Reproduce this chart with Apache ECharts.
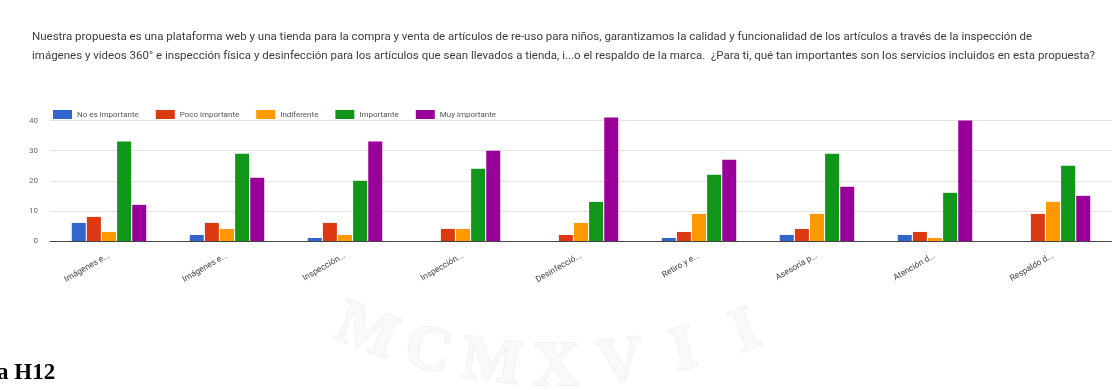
<!DOCTYPE html>
<html>
<head>
<meta charset="utf-8">
<script src="https://cdn.jsdelivr.net/npm/echarts@6/dist/echarts.min.js"></script>
<style>
  html, body { margin: 0; padding: 0; background: #fff; }
  #chart { width: 1112px; height: 390px; }
</style>
</head>
<body>
<div id="chart"></div>
<script>
// Survey question and answer breakdown per service
const titleLines = [
  'Nuestra propuesta es una plataforma web y una tienda para la compra y venta de artículos de re-uso para niños, garantizamos la calidad y funcionalidad de los artículos a través de la inspección de',
  'imágenes y videos 360° e inspección física y desinfección para los artículos que sean llevados a tienda, i...o el respaldo de la marca.  ¿Para ti, qué tan importantes son los servicios incluidos en esta propuesta?'
];
const categories = ['Imágenes e...', 'Imágenes e...', 'Inspección...', 'Inspección...', 'Desinfecció...', 'Retiro y e...', 'Asesoría p...', 'Atención d...', 'Respaldo d...'];
const seriesNames = ['No es importante', 'Poco importante', 'Indiferente', 'Importante', 'Muy importante'];
const noImportante   = [6, 2, 1, 0, 0, 1, 2, 2, 0];
const pocoImportante = [8, 6, 6, 4, 2, 3, 4, 3, 9];
const indiferente    = [3, 4, 2, 4, 6, 9, 9, 1, 13];
const importante     = [33, 29, 20, 24, 13, 22, 29, 16, 25];
const muyImportante  = [12, 21, 33, 30, 41, 27, 18, 40, 15];
const yTicks = [0, 10, 20, 30, 40];
const footerText = 'a H12';
const sealLetters = ['M', 'C', 'M', 'X', 'V', 'I', 'I'];

const colors = ['#3366cc', '#dc3912', '#ff9900', '#109618', '#990099'];
const values = [noImportante, pocoImportante, indiferente, importante, muyImportante];

// faint seal letters set along a wide arc behind the chart
const sealCx = 556, sealCy = -162, sealR = 530;
const sealStart = 111, sealEnd = 69;
const sealGraphics = sealLetters.map((ch, i) => {
  const deg = sealStart + (sealEnd - sealStart) * i / (sealLetters.length - 1);
  const rad = deg * Math.PI / 180;
  return {
    type: 'text',
    x: sealCx + sealR * Math.cos(rad),
    y: sealCy + sealR * Math.sin(rad),
    rotation: (90 - deg) * Math.PI / 180,
    z: -10,
    style: {
      text: ch,
      font: 'bold 64px "Liberation Serif"',
      fill: '#f9f9f9',
      stroke: '#eeeeee',
      lineWidth: 1.5,
      textAlign: 'center',
      textVerticalAlign: 'middle'
    }
  };
});

const chart = echarts.init(document.getElementById('chart'), null, { renderer: 'canvas' });
chart.setOption({
  animation: false,
  color: colors,
  graphic: [
    ...sealGraphics,
    {
      type: 'text', left: 32, top: 31,
      style: { text: titleLines[0], font: '11.5px Roboto', fill: '#3c3c3c' }
    },
    {
      type: 'text', left: 32, top: 50,
      style: { text: titleLines[1], font: '11.5px Roboto', fill: '#3c3c3c' }
    },
    {
      type: 'text', left: -3, top: 362,
      style: { text: footerText, font: 'bold 23px "Liberation Serif"', fill: '#000' }
    }
  ],
  legend: {
    data: seriesNames,
    left: 48, top: 105,
    itemWidth: 19, itemHeight: 9, itemGap: 17,
    icon: 'rect',
    textStyle: { fontSize: 8, color: '#555', fontFamily: 'Roboto' }
  },
  grid: { left: 50, right: 0, top: 114.5, bottom: 149, containLabel: false },
  xAxis: {
    type: 'category',
    data: categories,
    axisLine: { show: true, lineStyle: { color: '#444', width: 1 } },
    axisTick: { show: false },
    axisLabel: {
      rotate: 30, fontSize: 8.5, color: '#444', fontFamily: 'Roboto',
      margin: 14, interval: 0
    }
  },
  yAxis: {
    type: 'value',
    min: 0, max: 42, interval: 10,
    axisLine: { show: false },
    axisTick: { show: false },
    splitLine: { lineStyle: { color: '#e3e3e3' }, showMaxLine: false },
    axisLabel: {
      fontSize: 8, color: '#666', fontFamily: 'Roboto', margin: 12,
      showMaxLabel: false,
      formatter: v => yTicks.includes(v) ? String(v) : ''
    }
  },
  series: seriesNames.map((name, i) => ({
    name,
    type: 'bar',
    data: values[i],
    barWidth: 14,
    barGap: '8%',
    itemStyle: { color: colors[i] }
  }))
});
</script>
</body>
</html>
